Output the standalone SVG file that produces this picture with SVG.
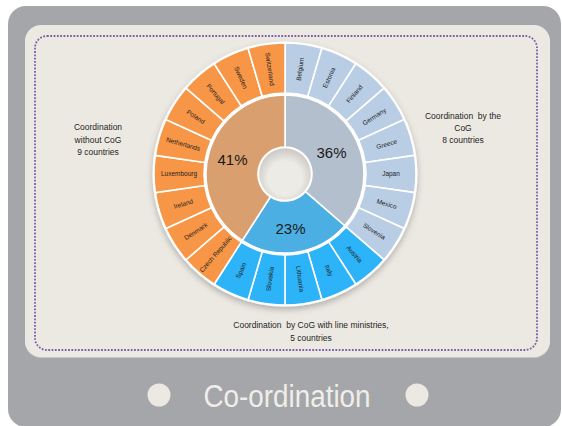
<svg xmlns="http://www.w3.org/2000/svg" xmlns:xlink="http://www.w3.org/1999/xlink" width="562" height="426" viewBox="0 0 562 426">
<style>
.seg{stroke:#fff;stroke-width:1.6;stroke-linejoin:round}
.gO{fill:#F79646}.gG{fill:#B9CDE5}.gB{fill:#2DB3F8}
.lbl{font-family:"Liberation Sans",Arial,sans-serif;font-size:6.5px;fill:#1e1e1e;text-anchor:middle}
.pct{font-family:"Liberation Sans",Arial,sans-serif;font-size:15px;fill:#1a1a1a;text-anchor:middle}
.cap{font-family:"Liberation Sans",Arial,sans-serif;font-size:8.5px;fill:#1e1e1e;text-anchor:middle;white-space:pre}
</style>
<defs>
<path id="seg" d="M285,43 A131,131 0 0 1 321.907,48.307 L307.820,96.281 A81,81 0 0 0 285,93 Z"/>
<filter id="sh" x="-20%" y="-20%" width="140%" height="150%">
<feDropShadow dx="0" dy="3" stdDeviation="3" flood-color="#000" flood-opacity="0.25"/>
</filter>
<radialGradient id="hole" cx="50%" cy="58%" r="55%">
<stop offset="0.6" stop-color="#EDEBE6"/>
<stop offset="1" stop-color="#CFCCC7"/>
</radialGradient>
</defs>

<rect x="8" y="6" width="553" height="421" rx="18" fill="#A5A6A9"/>
<rect x="25" y="26" width="525" height="332" rx="16" fill="#C9C7C3"/>
<rect x="25" y="25" width="525" height="332" rx="16" fill="#ECE9E3"/>
<rect x="35" y="36" width="502" height="314" rx="12" fill="none" stroke="#7E5FA8" stroke-width="1.8" stroke-dasharray="1.8 1.5"/>

<g id="donut">
<circle cx="285" cy="174" r="132.5" fill="#fff" filter="url(#sh)"/>

<g id="inner-gray"><path class="seg" fill="#B3BFCD" d="M285,95 A79,79 0 0 1 344.704,225.734 L305.405,191.681 A27,27 0 0 0 285,147 Z"/><text class="pct" x="331.5" y="158">36%</text></g>
<g id="inner-blue"><path class="seg" fill="#4CAFE3" d="M344.704,225.734 A79,79 0 0 1 242.289,240.460 L270.403,196.714 A27,27 0 0 0 305.405,191.681 Z"/><text class="pct" x="290.5" y="234">23%</text></g>
<g id="inner-orange"><path class="seg" fill="#DA9F6E" d="M242.289,240.460 A79,79 0 0 1 285,95 L285,147 A27,27 0 0 0 270.403,196.714 Z"/><text class="pct" x="232.5" y="165">41%</text></g>
<circle cx="285" cy="174" r="25.8" fill="url(#hole)"/>

<g id="belgium"><use xlink:href="#seg" class="seg gG"/><text class="lbl" x="391" y="176.3" transform="rotate(-81.8182 285 174)">Belgium</text></g>
<g id="estonia"><use xlink:href="#seg" class="seg gG" transform="rotate(16.3636 285 174)"/><text class="lbl" x="391" y="176.3" transform="rotate(-65.4545 285 174)">Estonia</text></g>
<g id="finland"><use xlink:href="#seg" class="seg gG" transform="rotate(32.7273 285 174)"/><text class="lbl" x="391" y="176.3" transform="rotate(-49.0909 285 174)">Finland</text></g>
<g id="germany"><use xlink:href="#seg" class="seg gG" transform="rotate(49.0909 285 174)"/><text class="lbl" x="391" y="176.3" transform="rotate(-32.7273 285 174)">Germany</text></g>
<g id="greece"><use xlink:href="#seg" class="seg gG" transform="rotate(65.4545 285 174)"/><text class="lbl" x="391" y="176.3" transform="rotate(-16.3636 285 174)">Greece</text></g>
<g id="japan"><use xlink:href="#seg" class="seg gG" transform="rotate(81.8182 285 174)"/><text class="lbl" x="391" y="176.3">Japan</text></g>
<g id="mexico"><use xlink:href="#seg" class="seg gG" transform="rotate(98.1818 285 174)"/><text class="lbl" x="391" y="176.3" transform="rotate(16.3636 285 174)">Mexico</text></g>
<g id="slovenia"><use xlink:href="#seg" class="seg gG" transform="rotate(114.5455 285 174)"/><text class="lbl" x="391" y="176.3" transform="rotate(32.7273 285 174)">Slovenia</text></g>

<g id="austria"><use xlink:href="#seg" class="seg gB" transform="rotate(130.9091 285 174)"/><text class="lbl" x="391" y="176.3" transform="rotate(49.0909 285 174)">Austria</text></g>
<g id="italy"><use xlink:href="#seg" class="seg gB" transform="rotate(147.2727 285 174)"/><text class="lbl" x="391" y="176.3" transform="rotate(65.4545 285 174)">Italy</text></g>
<g id="lithuania"><use xlink:href="#seg" class="seg gB" transform="rotate(163.6364 285 174)"/><text class="lbl" x="391" y="176.3" transform="rotate(81.8182 285 174)">Lithuania</text></g>
<g id="slovakia"><use xlink:href="#seg" class="seg gB" transform="rotate(180 285 174)"/><text class="lbl" x="179" y="176.3" transform="rotate(-81.8182 285 174)">Slovakia</text></g>
<g id="spain"><use xlink:href="#seg" class="seg gB" transform="rotate(196.3636 285 174)"/><text class="lbl" x="179" y="176.3" transform="rotate(-65.4545 285 174)">Spain</text></g>

<g id="czech-republic"><use xlink:href="#seg" class="seg gO" transform="rotate(212.7273 285 174)"/><text class="lbl" x="179" y="176.3" transform="rotate(-49.0909 285 174)">Czech Republic</text></g>
<g id="denmark"><use xlink:href="#seg" class="seg gO" transform="rotate(229.0909 285 174)"/><text class="lbl" x="179" y="176.3" transform="rotate(-32.7273 285 174)">Denmark</text></g>
<g id="ireland"><use xlink:href="#seg" class="seg gO" transform="rotate(245.4545 285 174)"/><text class="lbl" x="179" y="176.3" transform="rotate(-16.3636 285 174)">Ireland</text></g>
<g id="luxembourg"><use xlink:href="#seg" class="seg gO" transform="rotate(261.8182 285 174)"/><text class="lbl" x="179" y="176.3">Luxembourg</text></g>
<g id="netherlands"><use xlink:href="#seg" class="seg gO" transform="rotate(278.1818 285 174)"/><text class="lbl" x="179" y="176.3" transform="rotate(16.3636 285 174)">Netherlands</text></g>
<g id="poland"><use xlink:href="#seg" class="seg gO" transform="rotate(294.5455 285 174)"/><text class="lbl" x="179" y="176.3" transform="rotate(32.7273 285 174)">Poland</text></g>
<g id="portugal"><use xlink:href="#seg" class="seg gO" transform="rotate(310.9091 285 174)"/><text class="lbl" x="179" y="176.3" transform="rotate(49.0909 285 174)">Portugal</text></g>
<g id="sweden"><use xlink:href="#seg" class="seg gO" transform="rotate(327.2727 285 174)"/><text class="lbl" x="179" y="176.3" transform="rotate(65.4545 285 174)">Sweden</text></g>
<g id="switzerland"><use xlink:href="#seg" class="seg gO" transform="rotate(343.6364 285 174)"/><text class="lbl" x="179" y="176.3" transform="rotate(81.8182 285 174)">Switzerland</text></g>
</g>

<g id="label-without-cog">
<text class="cap" x="98" y="130">Coordination</text>
<text class="cap" x="98" y="142.5">without CoG</text>
<text class="cap" x="98" y="155">9 countries</text>
</g>
<g id="label-by-cog">
<text class="cap" x="463" y="119">Coordination  by the</text>
<text class="cap" x="463" y="131">CoG</text>
<text class="cap" x="463" y="143">8 countries</text>
</g>
<g id="label-line-ministries">
<text class="cap" x="311" y="328">Coordination  by CoG with line ministries,</text>
<text class="cap" x="311" y="341">5 countries</text>
</g>

<g id="footer">
<circle cx="159" cy="395" r="11.5" fill="#ECE9E3"/>
<circle cx="417" cy="395" r="11.5" fill="#ECE9E3"/>
<text x="287" y="407" font-family="'Liberation Sans',Arial,sans-serif" font-size="31" fill="#F0EEEA" text-anchor="middle" textLength="167" lengthAdjust="spacingAndGlyphs">Co-ordination</text>
</g>
</svg>
